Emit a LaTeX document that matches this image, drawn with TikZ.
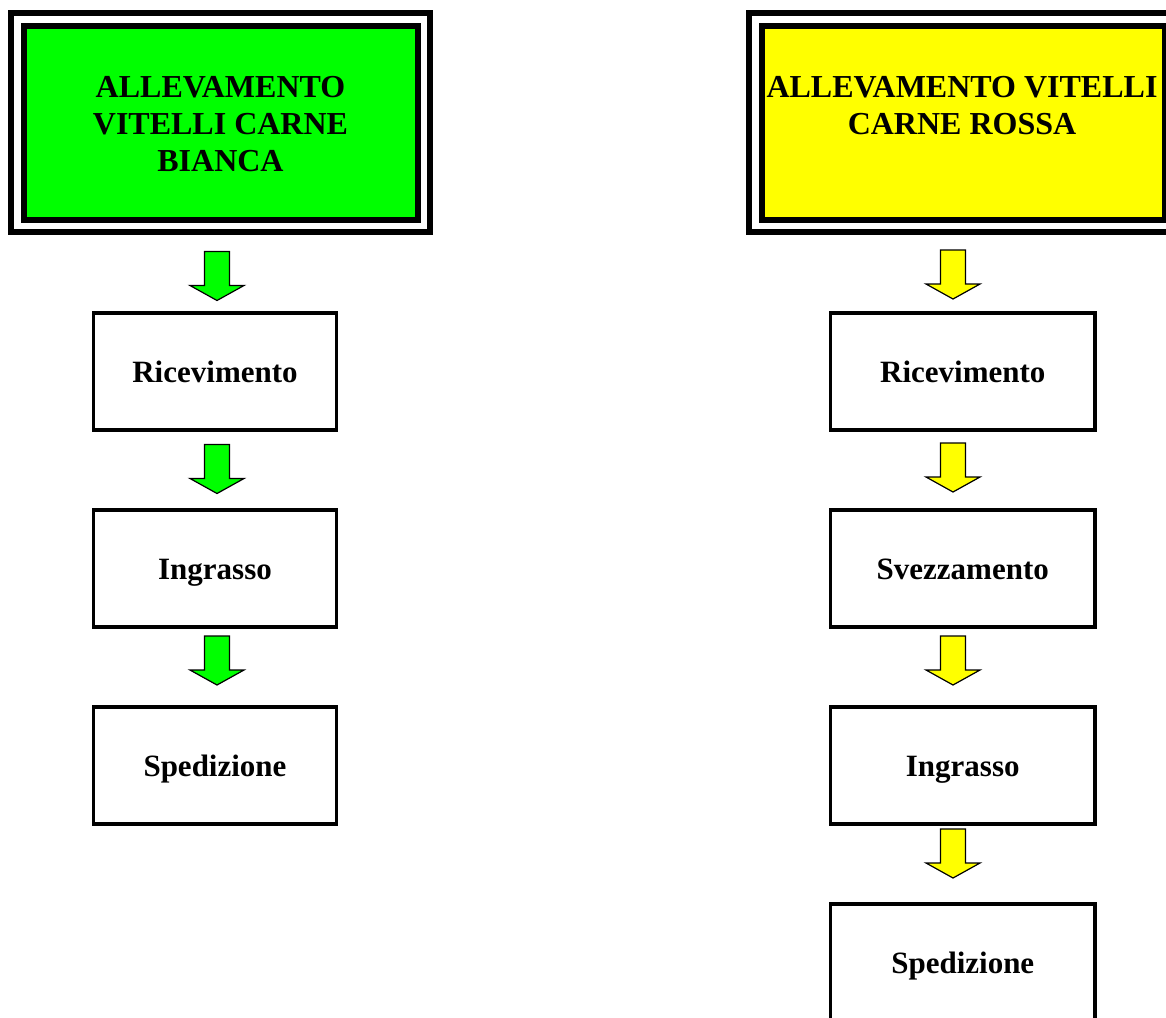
\documentclass[tikz,border=0pt]{standalone}
\usepackage{fontspec}
\setmainfont{Liberation Serif}
\usetikzlibrary{calc}
\definecolor{hgreen}{RGB}{0,255,0}
\definecolor{hyellow}{RGB}{255,255,0}
\newcommand\blockarrow[2]{%
  \draw[arrowline, fill=#1] ($(#2)+(-12.5,-49)$) -- ($(#2)+(12.5,-49)$) -- ($(#2)+(12.5,-15)$)
    -- ($(#2)+(27,-15)$) -- (#2) -- ($(#2)+(-27,-15)$) -- ($(#2)+(-12.5,-15)$) -- cycle;}
\begin{document}
\begin{tikzpicture}[x=1pt,y=-1pt,
  headerbox/.style={draw=black, line width=6pt, double=white, double distance=6.5pt,
    minimum width=#1, minimum height=206.5pt, inner sep=0pt},
  headertext/.style={anchor=north, inner sep=0pt, align=center,
    font=\fontsize{32}{37}\selectfont\bfseries},
  stepbox/.style={draw=black, line width=3.5pt, minimum width=#1, minimum height=117pt,
    inner sep=0pt, text height=22pt, text depth=0pt,
    font=\fontsize{31}{36}\selectfont\bfseries},
  arrowline/.style={draw=black, line width=1.2pt, line join=miter}]
\useasboundingbox (0,0) rectangle (1166,1017);
\clip (0,0) rectangle (1166,1017);

% headers
\node[headerbox=406.5pt, fill=hgreen] (hl) at (220.5,122.5) {};
\node[headertext] (hlt) at (220.5,76) {ALLEVAMENTO\\VITELLI CARNE\\BIANCA};
\node[headerbox=416pt, fill=hyellow] (hr) at (963.25,122.5) {};
\node[headertext] (hrt) at (962,76) {ALLEVAMENTO VITELLI\\CARNE ROSSA};

% left column
\node[stepbox=243pt] (l1) at (215,371.25) {Ricevimento};
\node[stepbox=243pt] (l2) at (215,568.25) {Ingrasso};
\node[stepbox=243pt] (l3) at (215,765.25) {Spedizione};

% right column
\node[stepbox=264.5pt] (r1) at (962.75,371.25) {Ricevimento};
\node[stepbox=264.5pt] (r2) at (962.75,568.25) {Svezzamento};
\node[stepbox=264.5pt] (r3) at (962.75,765.25) {Ingrasso};
\node[stepbox=264.5pt] (r4) at (962.75,962.25) {Spedizione};

% arrow tips
\coordinate (lt1) at ($(l1.north)+(2,-10.5)$);
\coordinate (lt2) at ($(l2.north)+(2,-14.5)$);
\coordinate (lt3) at ($(l3.north)+(2,-20)$);
\coordinate (rt1) at ($(r1.north)+(-9.75,-12)$);
\coordinate (rt2) at ($(r2.north)+(-9.75,-16)$);
\coordinate (rt3) at ($(r3.north)+(-9.75,-20)$);
\coordinate (rt4) at ($(r4.north)+(-9.75,-24)$);

\blockarrow{hgreen}{lt1}
\blockarrow{hgreen}{lt2}
\blockarrow{hgreen}{lt3}
\blockarrow{hyellow}{rt1}
\blockarrow{hyellow}{rt2}
\blockarrow{hyellow}{rt3}
\blockarrow{hyellow}{rt4}
\end{tikzpicture}
\end{document}
